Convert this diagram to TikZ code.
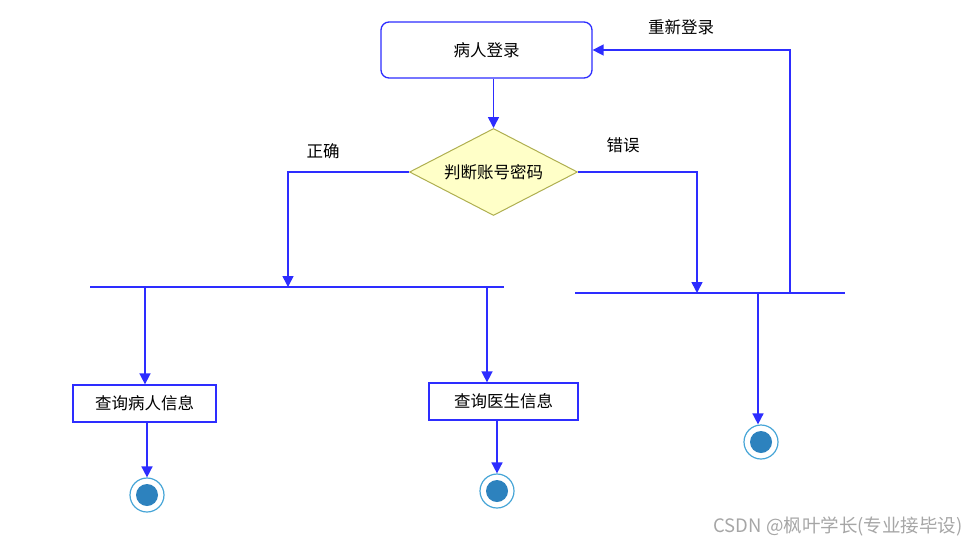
\documentclass[tikz,border=0pt]{standalone}
\usepackage{fontspec}
\newfontfamily\cjk{Noto Sans CJK SC}
\usetikzlibrary{shapes.geometric,arrows.meta}
\definecolor{flow}{RGB}{45,45,255}
\definecolor{decfill}{RGB}{255,255,200}
\definecolor{decdraw}{RGB}{175,175,80}
\definecolor{finring}{RGB}{70,165,215}
\definecolor{fincore}{RGB}{45,130,190}
\tikzset{
  flowline/.style={draw=flow, line width=1.6pt},
  flowarrow/.style={flowline, -{Triangle[length=11pt,width=11pt]}},
  actbox/.style={draw=flow, line width=1.3pt, fill=white, inner sep=0pt, minimum height=37pt},
  decision/.style={diamond, draw=decdraw, line width=1pt, fill=decfill, inner sep=0pt, aspect=1.93, minimum width=168pt, minimum height=87pt},
  finalstate/.style={circle, draw=finring, line width=1.2pt, fill=white, minimum size=34pt, inner sep=0pt,
    path picture={\fill[fincore] (path picture bounding box.center) circle (11pt);}},
  lbl/.style={inner sep=0pt, text=black},
  bar/.style={draw=flow, line width=1.6pt}
}
\begin{document}
\begin{tikzpicture}[x=1pt,y=-1pt, font=\cjk\fontsize{16.5}{18}\selectfont]
\useasboundingbox (0,0) rectangle (969,544);
% nodes
\node[actbox, rounded corners=8pt, minimum width=211pt, minimum height=56pt] (login) at (486.5,50) {病人登录};
\node[decision] (dec) at (493.5,172) {判断账号密码};
\node[actbox, minimum width=143pt] (q1) at (144.5,403.5) {查询病人信息};
\node[actbox, minimum width=149pt] (q2) at (503.5,401.5) {查询医生信息};
\node[finalstate] (f1) at (147,495) {};
\node[finalstate] (f2) at (497,491) {};
\node[finalstate] (f3) at (761,442) {};
% synchronisation bars
\coordinate (b1l) at (90,287);
\coordinate (b1r) at (504,287);
\coordinate (b2l) at (575,293);
\coordinate (b2r) at (845,293);
\draw[bar] (b1l) -- (b1r);
\draw[bar] (b2l) -- (b2r);
\coordinate (b1in) at (288,287);
\coordinate (b1a) at (145,287);
\coordinate (b1b) at (487,287);
\coordinate (b2in) at (697,293);
\coordinate (b2up) at (790,293);
\coordinate (b2d) at (758,293);
% connectors
\draw[flowarrow] (dec.north |- login.south) -- (dec.north);
\draw[flowarrow] (dec.west) -| (b1in);
\draw[flowarrow] (dec.east) -| (b2in);
\draw[flowarrow] (b2up) |- (login.east);
\draw[flowarrow] (b1a) -- (b1a |- q1.north);
\draw[flowarrow] (b1b) -- (b1b |- q2.north);
\draw[flowarrow] (f1.north |- q1.south) -- (f1.north);
\draw[flowarrow] (f2.north |- q2.south) -- (f2.north);
\draw[flowarrow] (b2d) -- (b2d |- f3.north);
% labels
\node[lbl] (lok) at (323,151) {正确};
\node[lbl] (lerr) at (623,145) {错误};
\node[lbl] (lre) at (681,27) {重新登录};
\node[lbl, text=black!35, font=\cjk\fontsize{18.5}{20}\selectfont] (wm) at (838,526) {CSDN @枫叶学长(专业接毕设)};
\end{tikzpicture}
\end{document}
